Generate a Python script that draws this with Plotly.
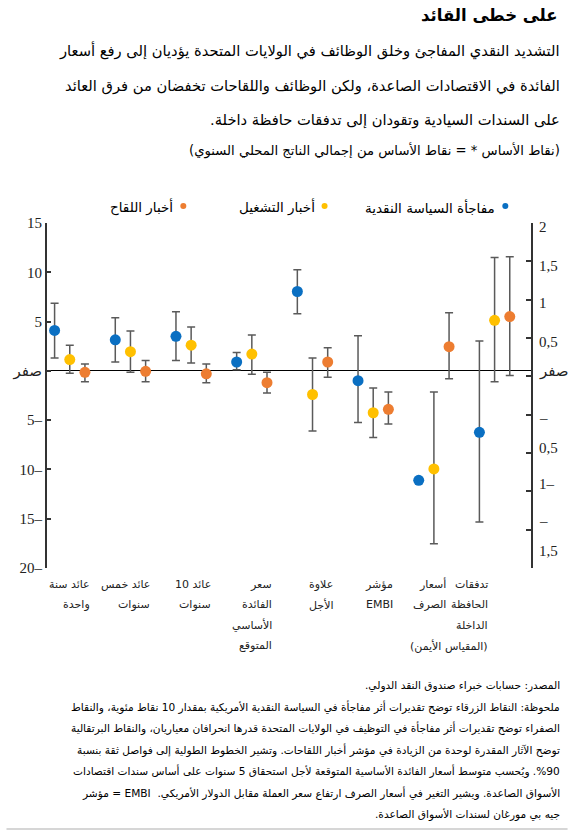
import numpy as np
import plotly.graph_objects as go

# --- data ---
categories = [
    ["عائد سنة", "واحدة"],
    ["عائد خمس", "سنوات"],
    ["عائد 10", "سنوات"],
    ["سعر", "الفائدة", "الأساسي", "المتوقع"],
    ["علاوة", "الأجل"],
    ["مؤشر", "EMBI"],
    ["أسعار", "الصرف"],
    ["تدفقات", "الحافظة", "الداخلة", "(المقياس الأيمن)"],
]

# last value of every series belongs to the right-hand scale
policy = [4.1, 3.15, 3.5, 0.9, 8.05, -1.0, -11.1, -0.73]
policy_hi = [6.85, 5.4, 6.0, 1.85, 10.25, 3.55, -11.1, 0.46]
policy_lo = [1.3, 0.9, 1.05, 0.1, 5.8, -5.25, -11.1, -1.9]

jobs = [1.15, 1.95, 2.6, 1.7, -2.4, -4.25, -9.95, 0.73]
jobs_hi = [2.6, 4.05, 4.45, 3.65, 1.3, -1.75, -2.15, 1.55]
jobs_lo = [-0.25, -0.15, 0.8, -0.35, -6.1, -6.75, -17.55, -0.07]

vaccine = [-0.15, -0.05, -0.3, -1.2, 0.9, -3.9, 2.45, 0.78]
vaccine_hi = [0.7, 1.05, 0.7, -0.15, 2.35, -2.15, 5.9, 1.56]
vaccine_lo = [-1.1, -1.1, -1.2, -2.25, -0.65, -5.4, -0.8, 0.01]

series_names = ["مفاجأة السياسة النقدية", "أخبار التشغيل", "أخبار اللقاح"]
series_colors = ["#0a6fc2", "#ffc000", "#ed7d31"]

left_ticks = [15, 10, 5, 0, -5, -10, -15, -20]
left_ticktext = ["15", "10", "5", "صفر", "5–", "10–", "15–", "20–"]
right_ticks = [2, 1.5, 1, 0.5, 0, -0.5, -1, -1.5, -2, -2.5]
right_label_pos = [1.95, 1.44, 0.96, 0.45, 0.06, -0.54, -0.93, -1.41, -1.89, -2.28]
right_label_text = ["2", "1,5", "1", "0,5", "صفر", "–", "0,5", "1–", "–", "1,5"]

title = "على خطى القائد"
subtitle = [
    "التشديد النقدي المفاجئ وخلق الوظائف في الولايات المتحدة يؤديان إلى رفع أسعار",
    "الفائدة في الاقتصادات الصاعدة، ولكن الوظائف واللقاحات تخفضان من فرق العائد",
    "على السندات السيادية وتقودان إلى تدفقات حافظة داخلة.",
]
units = "(نقاط الأساس * = نقاط الأساس من إجمالي الناتج المحلي السنوي)"
notes = [
    "المصدر: حسابات خبراء صندوق النقد الدولي.",
    "ملحوظة: النقاط الزرقاء توضح تقديرات أثر مفاجأة في السياسة النقدية الأمريكية بمقدار 10 نقاط مئوية، والنقاط",
    "الصفراء توضح تقديرات أثر مفاجأة في التوظيف في الولايات المتحدة قدرها انحرافان معياريان، والنقاط البرتقالية",
    "توضح الآثار المقدرة لوحدة من الزيادة في مؤشر أخبار اللقاحات. وتشير الخطوط الطولية إلى فواصل ثقة بنسبة",
    "%90. ويُحسب متوسط أسعار الفائدة الأساسية المتوقعة لأجل استحقاق 5 سنوات على أساس سندات اقتصادات",
    "الأسواق الصاعدة. ويشير التغير في أسعار الصرف ارتفاع سعر العملة مقابل الدولار الأمريكي.  EMBI = مؤشر",
    "جيه بي مورغان لسندات الأسواق الصاعدة.",
]

# --- layout helpers (pixel -> paper) ---
W, H = 568, 832
L, R, T, B = 41, 37, 223, 264
PW, PH = W - L - R, H - T - B


def xp(px):
    return (px - L) / PW


def yp(py):
    return (H - B - py) / PH


def rtl(s):
    return "\u2067" + s + "\u2069"


FONT = "DejaVu Sans"
SERIF = "Liberation Serif, DejaVu Sans"

fig = go.Figure()

offsets = [-0.25, 0.0, 0.25]
all_series = [(policy, policy_hi, policy_lo), (jobs, jobs_hi, jobs_lo), (vaccine, vaccine_hi, vaccine_lo)]
n = len(categories)
for k, (vals, hi, lo) in enumerate(all_series):
    v = np.array(vals, dtype=float)
    up = np.array(hi, dtype=float) - v
    dn = v - np.array(lo, dtype=float)
    x = np.arange(n) + offsets[k]
    for sl, axis in [(slice(0, n - 1), "y"), (slice(n - 1, n), "y2")]:
        fig.add_trace(go.Scatter(
            x=x[sl], y=v[sl], yaxis=axis, mode="markers",
            marker=dict(size=11, color=series_colors[k]),
            error_y=dict(type="data", symmetric=False, array=up[sl], arrayminus=dn[sl],
                         color="#5a5a5a", thickness=1.5, width=4),
            name=series_names[k], showlegend=False, hoverinfo="skip",
        ))

fig.update_layout(
    width=W, height=H,
    margin=dict(l=L, r=R, t=T, b=B),
    paper_bgcolor="white", plot_bgcolor="white",
    font=dict(family=FONT, color="#222"),
    xaxis=dict(range=[-0.375, 7.6], showticklabels=False, showgrid=False,
               zeroline=False, showline=False, ticks=""),
    yaxis=dict(range=[-20, 15], tickvals=left_ticks, ticktext=left_ticktext,
               ticks="inside", ticklen=4, tickwidth=1.5, tickcolor="#333",
               showline=True, linecolor="#333", linewidth=2,
               showgrid=False, zeroline=True, zerolinecolor="black", zerolinewidth=1.3,
               tickfont=dict(family=SERIF, size=15, color="#222")),
    yaxis2=dict(range=[-2.5, 2], overlaying="y", side="right", tickvals=right_ticks,
                showticklabels=False, ticks="inside", ticklen=5, tickwidth=1.5,
                tickcolor="#333", showline=True, linecolor="#333", linewidth=2,
                showgrid=False, zeroline=False),
)

ann = []
# right axis labels
for pos, txt in zip(right_label_pos, right_label_text):
    ann.append(dict(x=xp(537), xref="paper", y=pos, yref="y2", xanchor="left",
                    yanchor="middle", text=txt, showarrow=False,
                    font=dict(family=SERIF, size=15, color="#222")))

# category labels under the groups (right aligned lines)
label_shift = [22, 22, 22, 22, 22, 22, 14, -5]
for i, lines in enumerate(categories):
    for j, line in enumerate(lines):
        ann.append(dict(x=i, xref="x", y=0, yref="paper", xanchor="right", yanchor="middle",
                        xshift=label_shift[i], yshift=-(16 + j * 20.5), text=rtl(line),
                        showarrow=False, font=dict(size=11)))

# title block
ann.append(dict(x=xp(560), xref="paper", y=yp(15), yref="paper", xanchor="right",
                yanchor="middle", text="<b>" + rtl(title) + "</b>", showarrow=False,
                font=dict(size=16.5, color="black")))
for j, line in enumerate(subtitle):
    ann.append(dict(x=xp(562), xref="paper", y=yp(51 + j * 34.5), yref="paper",
                    xanchor="right", yanchor="middle", text=rtl(line), showarrow=False,
                    font=dict(size=14.7, color="black")))
ann.append(dict(x=xp(562), xref="paper", y=yp(150), yref="paper", xanchor="right",
                yanchor="middle", text=rtl(units), showarrow=False,
                font=dict(size=13.2, color="black")))

# legend (dot to the right of the text)
legend_dot_x = [505, 322, 179]
shapes = []
for k in range(3):
    ann.append(dict(x=xp(legend_dot_x[k] - 8), xref="paper", y=yp(207), yref="paper",
                    xanchor="right", yanchor="middle", text=rtl(series_names[k]),
                    showarrow=False, font=dict(size=13.5, color="black")))
    shapes.append(dict(type="circle", xref="paper", yref="paper",
                       xsizemode="pixel", ysizemode="pixel",
                       xanchor=xp(legend_dot_x[k]), yanchor=yp(206),
                       x0=-3, x1=3, y0=-3, y1=3,
                       fillcolor=series_colors[k], line=dict(width=0)))

# notes
for j, line in enumerate(notes):
    ann.append(dict(x=xp(562), xref="paper", y=yp(685 + j * 21.5), yref="paper",
                    xanchor="right", yanchor="middle", text=rtl(line), showarrow=False,
                    font=dict(size=10.6, color="black")))

shapes.append(dict(type="line", xref="paper", yref="paper", x0=xp(0), x1=xp(W),
                   y0=yp(829), y1=yp(829), line=dict(color="#c8c8c8", width=1.5)))

fig.update_layout(annotations=ann, shapes=shapes)
fig.write_html("out.html", config={"displayModeBar": False},
               post_script="document.body.style.margin='0px';")
